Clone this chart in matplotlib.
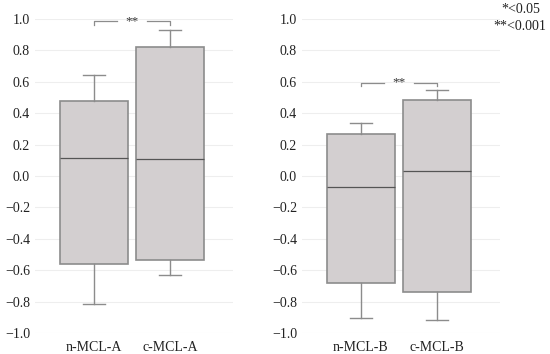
import matplotlib
matplotlib.use("Agg")
import matplotlib.pyplot as plt

plt.rcParams['font.family'] = ['Liberation Serif', 'DejaVu Serif']

# panel A
labels_a = ['n-MCL-A', 'c-MCL-A']
whislo_a = [-0.815, -0.63]
q1_a = [-0.56, -0.535]
med_a = [0.115, 0.11]
q3_a = [0.48, 0.82]
whishi_a = [0.645, 0.93]

# panel B
labels_b = ['n-MCL-B', 'c-MCL-B']
whislo_b = [-0.905, -0.915]
q1_b = [-0.68, -0.74]
med_b = [-0.07, 0.03]
q3_b = [0.27, 0.485]
whishi_b = [0.335, 0.55]

yticks = [-1.0, -0.8, -0.6, -0.4, -0.2, 0.0, 0.2, 0.4, 0.6, 0.8, 1.0]
sig_a = 0.985
sig_b = 0.595

FILL = '#d3cfd0'
EDGE = '#8c8c8c'


def draw_panel(ax, labels, lo, q1, med, q3, hi, sig_y):
    stats = []
    for i in range(len(labels)):
        stats.append(dict(label=labels[i], whislo=lo[i], q1=q1[i], med=med[i],
                          q3=q3[i], whishi=hi[i], fliers=[]))
    ax.bxp(stats, positions=[1, 2], widths=0.9, capwidths=0.28, patch_artist=True,
           showfliers=False,
           boxprops=dict(facecolor=FILL, edgecolor=EDGE, linewidth=1.2),
           medianprops=dict(color='#555555', linewidth=0.9),
           whiskerprops=dict(color=EDGE, linewidth=1.0),
           capprops=dict(color=EDGE, linewidth=1.0))
    ax.set_xlim(0.224, 2.829)
    ax.set_ylim(-1.0, 1.0)
    ax.set_yticks(yticks)
    ax.set_yticklabels([('%.1f' % v).replace('-', '\u2212') for v in yticks])
    ax.grid(axis='y', color='#eeeeee', linewidth=0.8)
    ax.set_axisbelow(True)
    for s in ax.spines.values():
        s.set_visible(False)
    ax.tick_params(length=0, labelsize=10, colors='#222222')
    ax.tick_params(axis='x', pad=6)
    # significance bracket
    d = 0.02
    ax.plot([1, 1, 1.3], [sig_y - d, sig_y, sig_y], color=EDGE, lw=0.9, clip_on=False)
    ax.plot([1.7, 2, 2], [sig_y, sig_y, sig_y - d], color=EDGE, lw=0.9, clip_on=False)
    ax.text(1.5, sig_y, '**', ha='center', va='center', fontsize=9.5, color='#333333')


fig = plt.figure(figsize=(5.5, 3.54), dpi=100)
ax1 = fig.add_axes([0.0636, 0.0593, 0.36, 0.887])
ax2 = fig.add_axes([0.549, 0.0593, 0.36, 0.887])
draw_panel(ax1, labels_a, whislo_a, q1_a, med_a, q3_a, whishi_a, sig_a)
draw_panel(ax2, labels_b, whislo_b, q1_b, med_b, q3_b, whishi_b, sig_b)

fig.text(0.983, 0.972, '*<0.05', ha='right', va='center', fontsize=10, color='#222222')
fig.text(0.993, 0.925, '**<0.001', ha='right', va='center', fontsize=10, color='#222222')

fig.savefig('out.png', dpi=100)
